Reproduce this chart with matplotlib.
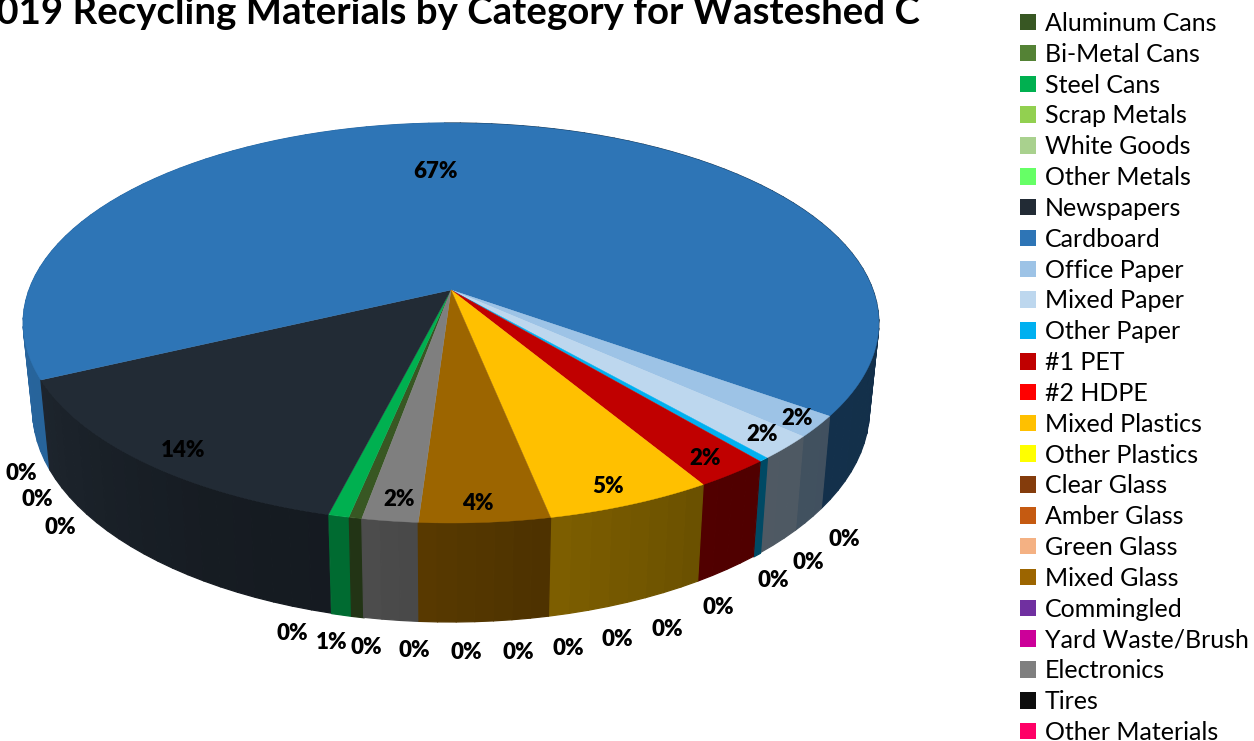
import numpy as np
import matplotlib
matplotlib.use("Agg")
import matplotlib.pyplot as plt
from matplotlib.collections import PolyCollection
from matplotlib.patches import Patch
from matplotlib.colors import to_rgb

# ---------- data ----------
categories = ["Aluminum Cans", "Bi-Metal Cans", "Steel Cans", "Scrap Metals", "White Goods",
              "Other Metals", "Newspapers", "Cardboard", "Office Paper", "Mixed Paper",
              "Other Paper", "#1 PET", "#2 HDPE", "Mixed Plastics", "Other Plastics",
              "Clear Glass", "Amber Glass", "Green Glass", "Mixed Glass", "Commingled",
              "Yard Waste/Brush", "Electronics", "Tires", "Other Materials"]
percent = [0.42, 0.0, 0.67, 0.0, 0.0,
           0.0, 14.0, 67.0, 1.72, 1.94,
           0.33, 2.47, 0.0, 5.4, 0.0,
           0.0, 0.0, 0.0, 4.2, 0.0,
           0.0, 1.8, 0.0, 0.0]
colors = ["#385723", "#548235", "#00B050", "#92D050", "#A9D18E",
          "#66FF66", "#222B35", "#2E75B6", "#9DC3E6", "#BDD7EE",
          "#00B0F0", "#C00000", "#FF0000", "#FFC000", "#FFFF00",
          "#843C0C", "#C55A11", "#F4B183", "#9C6500", "#7030A0",
          "#CC0099", "#7F7F7F", "#0D0D0D", "#FF0066"]
title = "2019 Recycling Materials by Category for Wasteshed C"

# ---------- layout (pixel space of the figure) ----------
label_xy = [(366, 646), (292, 632), (332, 641), (60, 526), (37, 498),
            (21, 472), (183, 449), (436, 170), (797, 417), (762, 433),
            (844, 538), (705, 457), (808, 561), (608, 485), (773, 579),
            (718, 606), (667, 628), (617, 638), (478, 502), (568, 647),
            (518, 651), (399, 498), (466, 651), (414, 649)]
APEX_X, APEX_Y = 451.0, 290.0
RX, PERSP_A, PERSP_C = 422.0, 146.7, -0.165
START_ANGLE = 10.2


def rim(phi_deg):
    """Top rim point for a clockwise angle measured from the nearest point."""
    phi = np.radians(phi_deg)
    s, t = -np.sin(phi), np.cos(phi)
    w = PERSP_C * t + 1.0
    return APEX_X + RX * s / w, (PERSP_A * t + APEX_Y) / w


def floor(x, y):
    """Point on the bottom edge under a top rim point."""
    return APEX_X + (x - APEX_X) * 0.978, y + 90.0 + (y - 380.0) * 0.063


def shade(phi_deg):
    signed = (phi_deg + 180.0) % 360.0 - 180.0
    return np.interp(signed, [-90, -30, -10, 10, 30, 65, 90],
                     [0.40, 0.42, 0.50, 0.60, 0.65, 0.85, 0.88])


fig = plt.figure(figsize=(12.54, 7.41), dpi=100, facecolor="white")
ax = fig.add_axes([0, 0, 1, 1])
ax.set_xlim(0, 1254)
ax.set_ylim(741, 0)
ax.axis("off")

edges = START_ANGLE + np.concatenate([[0.0], np.cumsum(percent)]) / np.sum(percent) * 360.0

# side walls, far to near
z = 2.0
for v, c, a0, a1 in sorted(zip(percent, colors, edges[:-1], edges[1:]),
                           key=lambda r: rim((r[2] + r[3]) / 2)[1]):
    if v <= 0:
        continue
    steps = np.linspace(a0, a1, max(2, int(np.ceil((a1 - a0) / 2.5)) + 1))
    xs, ys = rim(steps)
    bx, by = floor(xs, ys)
    # one solid backing polygon per slice hides the seams between the shaded strips
    mid = shade((a0 + a1) / 2)
    rgb = np.array(to_rgb(c))
    quads, fc = [], []
    for i in range(len(steps) - 1):
        quads.append([(xs[i], ys[i]), (xs[i + 1], ys[i + 1]), (bx[i + 1], by[i + 1]), (bx[i], by[i])])
        fc.append(tuple(shade((steps[i] + steps[i + 1]) / 2) * rgb))
    order = np.argsort([q[0][1] for q in quads])
    ax.add_collection(PolyCollection([quads[i] for i in order],
                                     facecolors=[fc[i] for i in order],
                                     edgecolors=[fc[i] for i in order],
                                     linewidths=0.9, zorder=z))
    z += 0.001

# top faces
for v, c, a0, a1 in zip(percent, colors, edges[:-1], edges[1:]):
    if v <= 0:
        continue
    arc = np.linspace(a0, a1, max(3, int(a1 - a0) * 2 + 2))
    xs, ys = rim(arc)
    ax.fill(np.r_[APEX_X, xs], np.r_[APEX_Y, ys], facecolor=c, edgecolor=c, lw=0.3, zorder=3)

# data labels
for v, (lx, ly) in zip(percent, label_xy):
    ax.text(lx, ly + 1.5, f"{round(v)}%", ha="center", va="center", family="Lato",
            fontweight="heavy", fontsize=16, color="black", zorder=5)

ax.text(920, 13, title, ha="right", va="center", family="Lato", fontweight="bold",
        fontsize=27.6, color="black", zorder=5)

handles = [Patch(facecolor=c, edgecolor="none", label=n) for n, c in zip(categories, colors)]
ax.legend(handles=handles, loc="upper left", bbox_to_anchor=(1020 / 1254, 1 - 12 / 741),
          bbox_transform=fig.transFigure, frameon=False, prop={"family": "Lato", "size": 18},
          handlelength=0.64, handleheight=0.64, handletextpad=0.36, labelspacing=0.313,
          borderpad=0, borderaxespad=0)

fig.savefig("out.png", dpi=100, facecolor="white")
